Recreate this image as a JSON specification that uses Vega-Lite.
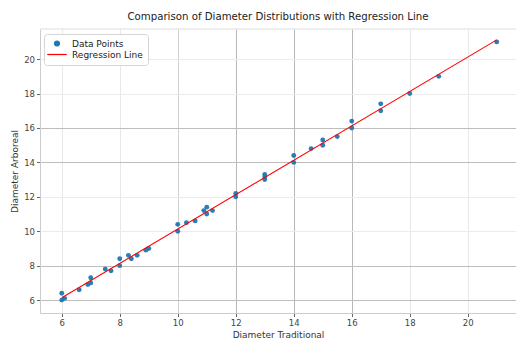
{
  "$schema": "https://vega.github.io/schema/vega-lite/v6.json",
  "width": 476,
  "height": 284,
  "autosize": {"type": "none"},
  "padding": {"left": 40, "top": 29, "right": 0, "bottom": 27},
  "background": "white",
  "config": {
    "view": {"stroke": null},
    "font": "DejaVu Sans",
    "axis": {
      "labelFont": "DejaVu Sans",
      "titleFont": "DejaVu Sans",
      "labelFontSize": 8.5,
      "titleFontSize": 9,
      "titleFontWeight": "normal",
      "labelColor": "#444444",
      "titleColor": "#333333",
      "domainColor": "#cccccc",
      "tickColor": "#666666",
      "tickSize": 3.5,
      "labelPadding": 2,
      "gridWidth": 1
    },
    "legend": {
      "orient": "none",
      "legendX": 4,
      "legendY": 5,
      "fillColor": "white",
      "strokeColor": "#d5d5d5",
      "cornerRadius": 3,
      "padding": 5,
      "labelFont": "DejaVu Sans",
      "labelFontSize": 9,
      "labelColor": "#222222",
      "labelOffset": 14,
      "rowPadding": 1
    }
  },
  "title": {
    "text": "Comparison of Diameter Distributions with Regression Line",
    "font": "DejaVu Sans",
    "fontSize": 10.2,
    "fontWeight": "normal",
    "color": "#222222",
    "offset": 6
  },
  "data": {
    "values": [
      {"trad": 6.0, "arb": 6.4, "series": "Data Points"},
      {"trad": 6.0, "arb": 6.0, "series": "Data Points"},
      {"trad": 6.1, "arb": 6.1, "series": "Data Points"},
      {"trad": 6.6, "arb": 6.6, "series": "Data Points"},
      {"trad": 6.9, "arb": 6.9, "series": "Data Points"},
      {"trad": 7.0, "arb": 7.3, "series": "Data Points"},
      {"trad": 7.0, "arb": 7.0, "series": "Data Points"},
      {"trad": 7.5, "arb": 7.8, "series": "Data Points"},
      {"trad": 7.7, "arb": 7.7, "series": "Data Points"},
      {"trad": 8.0, "arb": 8.4, "series": "Data Points"},
      {"trad": 8.0, "arb": 8.0, "series": "Data Points"},
      {"trad": 8.3, "arb": 8.6, "series": "Data Points"},
      {"trad": 8.4, "arb": 8.4, "series": "Data Points"},
      {"trad": 8.6, "arb": 8.6, "series": "Data Points"},
      {"trad": 8.9, "arb": 8.9, "series": "Data Points"},
      {"trad": 9.0, "arb": 9.0, "series": "Data Points"},
      {"trad": 10.0, "arb": 10.4, "series": "Data Points"},
      {"trad": 10.0, "arb": 10.0, "series": "Data Points"},
      {"trad": 10.3, "arb": 10.5, "series": "Data Points"},
      {"trad": 10.6, "arb": 10.6, "series": "Data Points"},
      {"trad": 10.9, "arb": 11.2, "series": "Data Points"},
      {"trad": 11.0, "arb": 11.4, "series": "Data Points"},
      {"trad": 11.0, "arb": 11.0, "series": "Data Points"},
      {"trad": 11.2, "arb": 11.2, "series": "Data Points"},
      {"trad": 12.0, "arb": 12.2, "series": "Data Points"},
      {"trad": 12.0, "arb": 12.0, "series": "Data Points"},
      {"trad": 13.0, "arb": 13.3, "series": "Data Points"},
      {"trad": 13.0, "arb": 13.15, "series": "Data Points"},
      {"trad": 13.0, "arb": 13.0, "series": "Data Points"},
      {"trad": 14.0, "arb": 14.4, "series": "Data Points"},
      {"trad": 14.0, "arb": 14.0, "series": "Data Points"},
      {"trad": 14.6, "arb": 14.8, "series": "Data Points"},
      {"trad": 15.0, "arb": 15.3, "series": "Data Points"},
      {"trad": 15.0, "arb": 15.0, "series": "Data Points"},
      {"trad": 15.5, "arb": 15.5, "series": "Data Points"},
      {"trad": 16.0, "arb": 16.4, "series": "Data Points"},
      {"trad": 16.0, "arb": 16.0, "series": "Data Points"},
      {"trad": 17.0, "arb": 17.4, "series": "Data Points"},
      {"trad": 17.0, "arb": 17.0, "series": "Data Points"},
      {"trad": 18.0, "arb": 18.0, "series": "Data Points"},
      {"trad": 19.0, "arb": 19.0, "series": "Data Points"},
      {"trad": 21.0, "arb": 21.0, "series": "Data Points"}
    ]
  },
  "encoding": {
    "x": {
      "field": "trad",
      "type": "quantitative",
      "title": "Diameter Traditional",
      "scale": {"domain": [5.25, 21.664], "nice": false, "zero": false},
      "axis": {
        "values": [6, 8, 10, 12, 14, 16, 18, 20],
        "grid": true,
        "titlePadding": 3,
        "gridColor": {
          "condition": [
            {"test": "datum.value >= 12 && datum.value <= 16", "value": "#b8b8b8"},
            {"test": "datum.value == 10", "value": "#d0d0d0"}
          ],
          "value": "#e8e8e8"
        }
      }
    },
    "y": {
      "field": "arb",
      "type": "quantitative",
      "title": "Diameter Arboreal",
      "scale": {"domain": [5.25, 21.75], "nice": false, "zero": false},
      "axis": {
        "values": [6, 8, 10, 12, 14, 16, 18, 20],
        "grid": true,
        "titlePadding": 4,
        "gridColor": {
          "condition": [
            {"test": "datum.value == 6 || datum.value == 8 || datum.value == 14 || datum.value == 16", "value": "#bdbdbd"}
          ],
          "value": "#ebebeb"
        }
      }
    },
    "color": {
      "field": "series",
      "type": "nominal",
      "scale": {"domain": ["Data Points", "Regression Line"], "range": ["#1f77b4", "#ff0000"]},
      "legend": {
        "title": null,
        "encode": {
          "symbols": {
            "update": {
              "x": {"value": 8},
              "shape": {"signal": "datum.value === 'Regression Line' ? 'stroke' : 'circle'"},
              "size": {"signal": "datum.value === 'Regression Line' ? 380 : 25"},
              "fill": {"signal": "datum.value === 'Regression Line' ? 'transparent' : '#1f77b4'"},
              "stroke": {"signal": "datum.value === 'Regression Line' ? '#ff0000' : 'transparent'"},
              "strokeWidth": {"value": 1.2},
              "opacity": {"value": 1}
            }
          }
        }
      }
    }
  },
  "layer": [
    {
      "mark": {"type": "rule", "strokeWidth": 1},
      "data": {"values": [{"top": 21.75}]},
      "encoding": {
        "y": {"field": "top", "type": "quantitative"},
        "x": {"value": 0},
        "x2": {"value": 476},
        "color": {"value": "#dddddd"}
      }
    },
    {
      "mark": {"type": "circle", "size": 24, "opacity": 0.95}
    },
    {
      "transform": [
        {"regression": "arb", "on": "trad"},
        {"calculate": "'Regression Line'", "as": "series"}
      ],
      "mark": {"type": "line", "strokeWidth": 1.1}
    }
  ]
}
